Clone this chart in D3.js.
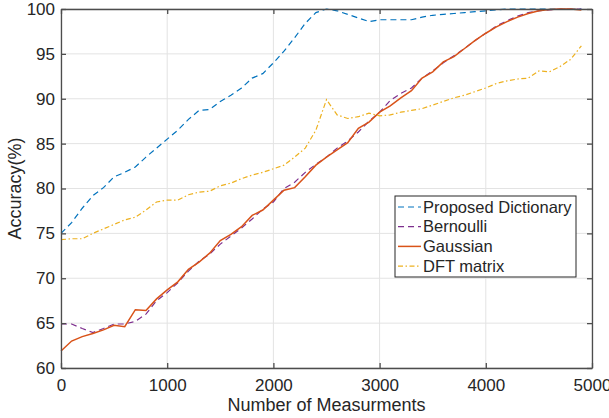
<!DOCTYPE html>
<html>
<head>
<meta charset="utf-8">
<script src="https://cdn.jsdelivr.net/npm/d3@7"></script>
<style>
  body { margin: 0; background: #fff; }
  text { font-family: "Liberation Sans", Arial, sans-serif; fill: #262626; }
</style>
</head>
<body>
<svg id="chart" width="609" height="418"></svg>
<script>
const measurements = [0, 100, 200, 300, 400, 500, 600, 700, 800, 900,
  1000, 1100, 1200, 1300, 1400, 1500, 1600, 1700, 1800, 1900,
  2000, 2100, 2200, 2300, 2400, 2500, 2600, 2700, 2800, 2900,
  3000, 3100, 3200, 3300, 3400, 3500, 3600, 3700, 3800, 3900,
  4000, 4100, 4200, 4300, 4400, 4500, 4600, 4700, 4800, 4900];

const proposed = [75.0, 76.2, 77.8, 79.2, 80.1, 81.3, 81.8, 82.4, 83.5, 84.5,
  85.5, 86.5, 87.7, 88.7, 88.8, 89.7, 90.4, 91.2, 92.3, 92.8,
  94.0, 95.3, 96.8, 98.4, 99.6, 100.0, 99.8, 99.4, 99.0, 98.6,
  98.8, 98.8, 98.8, 98.8, 99.1, 99.3, 99.4, 99.5, 99.6, 99.7,
  99.8, 99.9, 100, 100, 100, 100, 100, 100, 100, 100];

const bernoulli = [64.9, 64.9, 64.4, 63.95, 64.4, 64.9, 64.9, 65.2, 66.0, 67.5,
  68.4, 69.5, 70.8, 71.9, 72.7, 73.8, 74.7, 75.6, 76.6, 77.7,
  78.5, 80.0, 80.7, 81.8, 82.7, 83.5, 84.5, 85.3, 86.3, 87.5,
  88.5, 89.8, 90.6, 91.2, 92.3, 93.1, 94.0, 94.8, 95.6, 96.5,
  97.3, 98.1, 98.7, 99.2, 99.6, 99.8, 99.9, 100, 100, 100];

const gaussian = [61.9, 63.0, 63.5, 63.85, 64.25, 64.75, 64.6, 66.5, 66.4, 67.7,
  68.7, 69.6, 71.0, 71.8, 72.8, 74.2, 74.9, 75.75, 77.0, 77.6,
  78.7, 79.8, 80.1, 81.3, 82.6, 83.5, 84.3, 85.1, 86.7, 87.4,
  88.5, 89.2, 90.1, 90.9, 92.3, 93.0, 94.1, 94.7, 95.6, 96.5,
  97.3, 98.0, 98.6, 99.1, 99.5, 99.8, 99.95, 100, 100, 99.9];

const dft = [74.3, 74.4, 74.4, 75.0, 75.5, 76.0, 76.5, 76.8, 77.6, 78.5,
  78.7, 78.7, 79.3, 79.6, 79.7, 80.3, 80.6, 81.1, 81.5, 81.8,
  82.2, 82.6, 83.5, 84.5, 86.5, 89.9, 88.2, 87.8, 88.0, 88.4,
  88.1, 88.2, 88.5, 88.7, 88.9, 89.3, 89.7, 90.1, 90.4, 90.8,
  91.2, 91.7, 92.0, 92.2, 92.3, 93.1, 93.0, 93.6, 94.4, 95.9];

const seriesNames = ['Proposed Dictionary', 'Bernoulli', 'Gaussian', 'DFT matrix'];
const xTicks = [0, 1000, 2000, 3000, 4000, 5000];
const yTicks = [60, 65, 70, 75, 80, 85, 90, 95, 100];

const svg = d3.select('#chart');
const margin = {top: 9, right: 17, bottom: 50, left: 61};
const width = +svg.attr('width') - margin.left - margin.right;
const height = +svg.attr('height') - margin.top - margin.bottom;

const x = d3.scaleLinear().domain([0, 5000]).range([0, width]);
const y = d3.scaleLinear().domain([60, 100]).range([height, 0]);

const g = svg.append('g').attr('transform', 'translate(' + margin.left + ',' + margin.top + ')');

// grid
g.append('g').selectAll('line').data(xTicks).enter().append('line')
  .attr('x1', d => x(d)).attr('x2', d => x(d))
  .attr('y1', 0).attr('y2', height)
  .attr('stroke', '#e3e3e3').attr('stroke-width', 1);
g.append('g').selectAll('line').data(yTicks).enter().append('line')
  .attr('y1', d => y(d)).attr('y2', d => y(d))
  .attr('x1', 0).attr('x2', width)
  .attr('stroke', '#e3e3e3').attr('stroke-width', 1);

// lines
const series = [
  {name: seriesNames[0], values: proposed, color: '#0072BD', dash: '6,4', w: 1.2},
  {name: seriesNames[1], values: bernoulli, color: '#7E2F8E', dash: '6,4', w: 1.2},
  {name: seriesNames[2], values: gaussian, color: '#D95319', dash: null, w: 1.5},
  {name: seriesNames[3], values: dft, color: '#EDB120', dash: '5,2.5,1.5,2.5', w: 1.2}
];

const line = d3.line().x(d => x(d[0])).y(d => y(d[1]));

g.selectAll('.series').data(series).enter().append('path')
  .attr('class', 'series')
  .attr('d', s => line(measurements.map((m, i) => [m, s.values[i]])))
  .attr('fill', 'none')
  .attr('stroke', s => s.color)
  .attr('stroke-width', s => s.w)
  .attr('stroke-dasharray', s => s.dash);

// axes (box with inward ticks)
const axisColor = '#4d4d4d';
const xAxis = d3.axisBottom(x).tickValues(xTicks).tickFormat(d3.format('d'))
  .tickSizeInner(-5).tickSizeOuter(0).tickPadding(11);
const yAxis = d3.axisLeft(y).tickValues(yTicks).tickFormat(d3.format('d'))
  .tickSizeInner(-5).tickSizeOuter(0).tickPadding(6);

g.append('g').attr('transform', 'translate(0,' + height + ')').call(xAxis);
g.append('g').call(yAxis);
g.append('g').call(d3.axisTop(x).tickValues(xTicks).tickSizeInner(-5).tickSizeOuter(0).tickFormat(''));
g.append('g').attr('transform', 'translate(' + width + ',0)')
  .call(d3.axisRight(y).tickValues(yTicks).tickSizeInner(-5).tickSizeOuter(0).tickFormat(''));

g.selectAll('.domain').attr('stroke', axisColor).attr('stroke-width', 1.3);
g.selectAll('.tick line').attr('stroke', axisColor).attr('stroke-width', 1.3);
g.selectAll('.tick text').style('font-family', '"Liberation Sans", Arial, sans-serif')
  .style('font-size', '17px').attr('fill', '#262626');

// axis labels
svg.append('text')
  .attr('x', margin.left + width / 2).attr('y', 411)
  .attr('text-anchor', 'middle')
  .style('font-size', '18px')
  .text('Number of Measurments');
svg.append('text')
  .attr('transform', 'translate(21,' + (margin.top + height / 2) + ') rotate(-90)')
  .attr('text-anchor', 'middle')
  .style('font-size', '18px')
  .text('Accuracy(%)');

// legend
const legend = svg.append('g').attr('transform', 'translate(395,196)');
legend.append('rect')
  .attr('width', 181).attr('height', 81)
  .attr('fill', '#fff').attr('stroke', '#262626').attr('stroke-width', 1);
const item = legend.selectAll('.item').data(series).enter().append('g')
  .attr('class', 'item')
  .attr('transform', (d, i) => 'translate(0,' + (11 + i * 19.7) + ')');
item.append('line')
  .attr('x1', 3).attr('x2', 26)
  .attr('stroke', d => d.color)
  .attr('stroke-width', d => d.w)
  .attr('stroke-dasharray', d => d.dash);
item.append('text')
  .attr('x', 28).attr('dy', '0.35em')
  .style('font-size', '16.5px')
  .text(d => d.name);
</script>
</body>
</html>
